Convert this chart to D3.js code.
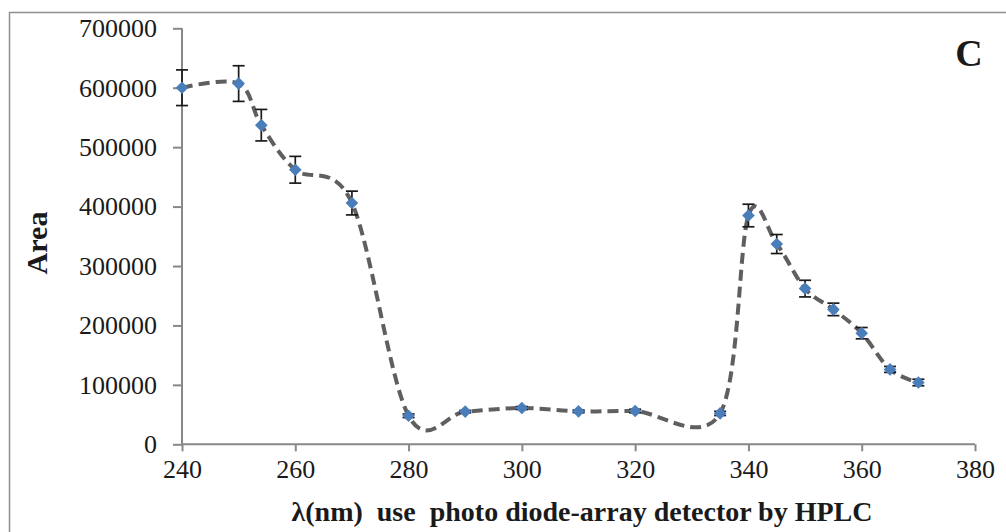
<!DOCTYPE html>
<html>
<head>
<meta charset="utf-8">
<script src="https://cdn.jsdelivr.net/npm/d3@7"></script>
<style>
  html, body { margin: 0; padding: 0; background: #ffffff; }
  svg { display: block; }
</style>
</head>
<body>
<svg id="chart" width="1006" height="532"></svg>
<script>
// ---- data ----
const wavelengths = [240, 250, 254, 260, 270, 280, 290, 300, 310, 320, 335, 340, 345, 350, 355, 360, 365, 370];
const areas = [600000, 607000, 537000, 462000, 406000, 48000, 55000, 61000, 55500, 56000, 52000, 385000, 337000, 262000, 227000, 187000, 126000, 104000];
const errors = [30000, 30000, 26500, 22500, 20000, 3000, 2000, 2500, 2000, 3000, 3500, 19000, 16000, 14000, 10500, 9500, 5000, 5500];
const xTicks = [240, 260, 280, 300, 320, 340, 360, 380];
const yTicks = [0, 100000, 200000, 300000, 400000, 500000, 600000, 700000];
const xTitle = "λ(nm)  use  photo diode-array detector by HPLC";
const yTitle = "Area";
const panelLabel = "C";

const FONT = '"Liberation Serif", "Times New Roman", Times, serif';
const points = wavelengths.map((w, i) => ({ w, a: areas[i], e: errors[i] }));

const svg = d3.select("#chart");
const axisColor = "#888888";

// outer frame (left and top edges visible)
svg.append("path")
  .attr("d", "M9.5,532 L9.5,12.5 L1006,12.5")
  .attr("fill", "none")
  .attr("stroke", "#8f8f8f")
  .attr("stroke-width", 1.5);

const x = d3.scaleLinear().domain([240, 380]).range([182, 975]);
const y = d3.scaleLinear().domain([0, 700000]).range([444.3, 28.3]);

// y axis
const gy = svg.append("g").attr("transform", "translate(182,0)")
  .call(d3.axisLeft(y).tickValues(yTicks).tickSize(9).tickPadding(16).tickFormat(d3.format("d")));
gy.attr("font-family", null).attr("font-size", null);
gy.select(".domain").attr("stroke", axisColor).attr("stroke-width", 2)
  .attr("d", `M0,${y(700000)}V${y(0)}`);
gy.selectAll(".tick line").attr("stroke", axisColor).attr("stroke-width", 2);
gy.selectAll(".tick text")
  .style("font-family", FONT)
  .style("font-size", "26px").attr("fill", "#1a1a1a");

// x axis
const gx = svg.append("g").attr("transform", `translate(0,${y(0)})`)
  .call(d3.axisBottom(x).tickValues(xTicks).tickSize(7).tickFormat(d3.format("d")));
gx.attr("font-family", null).attr("font-size", null);
gx.select(".domain").attr("stroke", axisColor).attr("stroke-width", 2)
  .attr("d", `M${x(240)},0H${x(380)}`);
gx.selectAll(".tick line").attr("stroke", axisColor).attr("stroke-width", 2);
gx.selectAll(".tick text")
  .style("font-family", FONT)
  .style("font-size", "26px").attr("fill", "#1a1a1a")
  .attr("y", 34).attr("dy", 0);

// smoothed dashed line
const line = d3.line()
  .x(d => x(d.w))
  .y(d => y(d.a))
  .curve(d3.curveCardinal.tension(0));
svg.append("path")
  .datum(points)
  .attr("d", line)
  .attr("fill", "none")
  .attr("stroke", "#5f5f5f")
  .attr("stroke-width", 4)
  .attr("stroke-dasharray", "11,6");

// error bars
const eb = svg.append("g").attr("stroke", "#1a1a1a").attr("stroke-width", 1.7).attr("fill", "none");
points.forEach(d => {
  const cx = x(d.w), top = y(d.a + d.e), bot = y(d.a - d.e);
  eb.append("line").attr("x1", cx).attr("x2", cx).attr("y1", top).attr("y2", bot);
  eb.append("line").attr("x1", cx - 6).attr("x2", cx + 6).attr("y1", top).attr("y2", top);
  eb.append("line").attr("x1", cx - 6).attr("x2", cx + 6).attr("y1", bot).attr("y2", bot);
});

// diamond markers
const sym = d3.symbol().type(d3.symbolSquare).size(80);
svg.append("g").selectAll("path")
  .data(points)
  .join("path")
  .attr("d", sym)
  .attr("transform", d => `translate(${x(d.w)},${y(d.a)}) rotate(45)`)
  .attr("fill", "#4a7ebb");

// axis titles
svg.append("text")
  .attr("x", 582).attr("y", 521)
  .attr("text-anchor", "middle")
  .style("font-family", FONT)
  .style("font-weight", "bold")
  .style("font-size", "28px")
  .style("white-space", "pre")
  .attr("fill", "#1a1a1a")
  .text(xTitle);

svg.append("text")
  .attr("transform", "translate(47,243) rotate(-90)")
  .attr("text-anchor", "middle")
  .style("font-family", FONT)
  .style("font-weight", "bold")
  .style("font-size", "30px")
  .attr("fill", "#1a1a1a")
  .text(yTitle);

// panel label
svg.append("text")
  .attr("x", 969).attr("y", 66)
  .attr("text-anchor", "middle")
  .style("font-family", FONT)
  .style("font-weight", "bold")
  .style("font-size", "38px")
  .attr("fill", "#1a1a1a")
  .text(panelLabel);
</script>
</body>
</html>
